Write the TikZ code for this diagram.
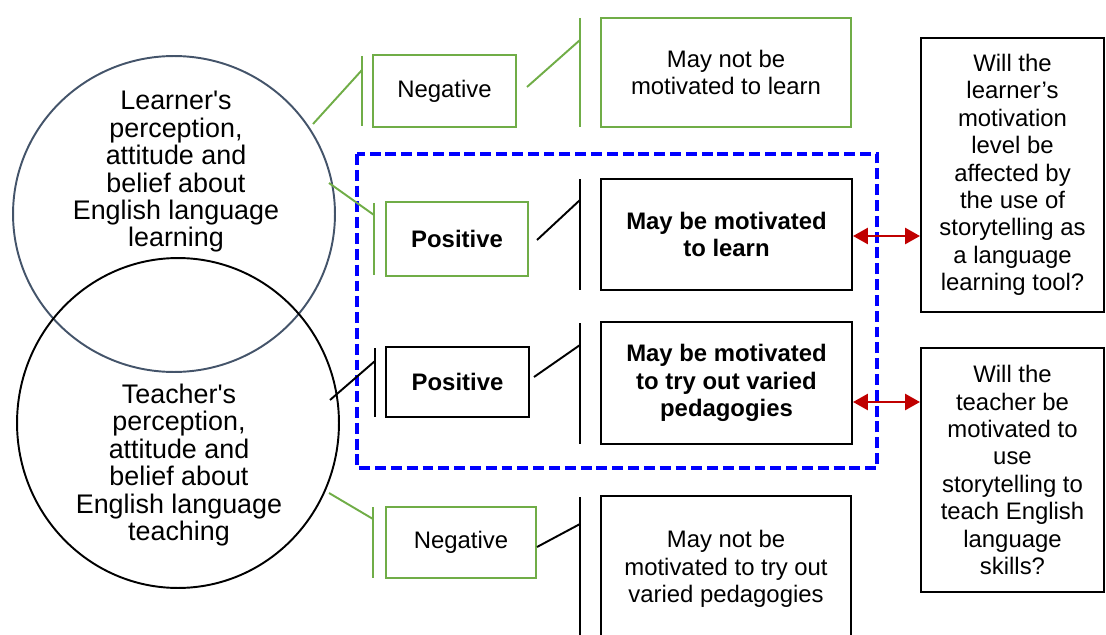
\documentclass[tikz,border=0pt]{standalone}
\usepackage{fontspec}
\setmainfont{Liberation Sans}
\usetikzlibrary{arrows.meta,shapes.geometric}
\definecolor{grn}{HTML}{70AD47}
\definecolor{slate}{HTML}{44546A}
\definecolor{dred}{HTML}{C00000}
\tikzset{
  txt/.style={align=center,font=\fontsize{13.6pt}{15.6pt}\selectfont,inner sep=0pt},
  ctxt/.style={align=center,font=\fontsize{15.3pt}{15.6pt}\selectfont,inner sep=0pt},
  boxg/.style={draw=grn,line width=1.1pt,txt,anchor=center},
  boxk/.style={draw=black,line width=1.1pt,txt,anchor=center},
  lng/.style={draw=grn,line width=1.1pt},
  lnk/.style={draw=black,line width=1.1pt},
  twoway/.style={draw=dred,line width=1.7pt,{Triangle[length=8.5pt,width=9pt]}-{Triangle[length=8.5pt,width=9pt]}},
  dashbox/.style={draw=blue,line width=1.9pt,dash pattern=on 6.2pt off 2.8pt}
}
\begin{document}
\begin{tikzpicture}[x=0.02cm,y=-0.02cm]
\useasboundingbox (0,0) rectangle (1106,635);
\clip (0,0) rectangle (1106,635);
% circles
\node[ellipse,draw=slate,line width=1.1pt,minimum width=6.44cm,minimum height=6.32cm,inner sep=0pt] (c1) at (174,214) {};
\node[ellipse,draw=black,line width=1.1pt,minimum width=6.44cm,minimum height=6.6cm,inner sep=0pt] (c2) at (178,423) {};
\node[ctxt] (t1) at (176,172) {Learner\textquotesingle s\\perception,\\attitude and\\belief about\\English language\\learning};
\node[ctxt] (t2) at (179,465) {Teacher\textquotesingle s\\perception,\\attitude and\\belief about\\English language\\teaching};
% dashed frame
\draw[dashbox] (357,154) rectangle (877,468);
% middle boxes
\node[boxg,minimum width=2.86cm,minimum height=1.44cm] (negT) at (444.5,91) {Negative};
\node[boxg,minimum width=2.84cm,minimum height=1.48cm] (posL) at (457,239) {\bfseries Positive};
\node[boxk,minimum width=2.86cm,minimum height=1.40cm] (posT) at (457.5,382) {\bfseries Positive};
\node[boxg,minimum width=3.00cm,minimum height=1.42cm] (negB) at (461,542.5) {Negative};
% outcome boxes
\node[boxg,minimum width=5.00cm,minimum height=2.18cm] (o1) at (726,72.5) {May not be\\motivated to learn};
\node[boxk,minimum width=5.02cm,minimum height=2.22cm] (o2) at (726.5,234.5) {\bfseries May be motivated\\\bfseries to learn};
\node[boxk,minimum width=5.02cm,minimum height=2.44cm] (o3) at (726.5,383) {\bfseries May be motivated\\\bfseries to try out varied\\\bfseries pedagogies};
\node[boxk,minimum width=5.00cm,minimum height=2.92cm] (o4) at (726,569) {May not be\\motivated to try out\\varied pedagogies};
% question boxes
\node[boxk,minimum width=3.66cm,minimum height=5.48cm] (q1) at (1012.5,175) {Will the\\learner’s\\motivation\\level be\\affected by\\the use of\\storytelling as\\a language\\learning tool?};
\node[boxk,minimum width=3.66cm,minimum height=4.88cm] (q2) at (1012.5,470) {Will the\\teacher be\\motivated to\\use\\storytelling to\\teach English\\language\\skills?};
% bracket lines
\draw[lng] (362,56) -- (362,126);
\draw[lng] (374,203) -- (374,275);
\draw[lnk] (375,348) -- (375,417);
\draw[lng] (373,507) -- (373,578);
\draw[lng] (580,18) -- (580,127);
\draw[lnk] (580,179) -- (580,290);
\draw[lnk] (580,323) -- (580,444);
\draw[lnk] (580,497) -- (580,640);
% connector endpoints
\coordinate (a1) at (313,124); \coordinate (b1) at (362,70);
\coordinate (a2) at (527,87);  \coordinate (b2) at (580,40);
\coordinate (a3) at (329,183); \coordinate (b3) at (374,215);
\coordinate (a4) at (537,240); \coordinate (b4) at (580,200);
\coordinate (a5) at (330,400); \coordinate (b5) at (375,361);
\coordinate (a6) at (534,377); \coordinate (b6) at (580,345);
\coordinate (a7) at (329,493); \coordinate (b7) at (373,519);
\coordinate (a8) at (537,547); \coordinate (b8) at (580,524);
\draw[lng] (a1) -- (b1);
\draw[lng] (a2) -- (b2);
\draw[lng] (a3) -- (b3);
\draw[lnk] (a4) -- (b4);
\draw[lnk] (a5) -- (b5);
\draw[lnk] (a6) -- (b6);
\draw[lng] (a7) -- (b7);
\draw[lnk] (a8) -- (b8);
% arrows
\coordinate (r1a) at (o2.east |- 0,236); \coordinate (r1b) at (q1.west |- 0,236);
\coordinate (r2a) at (o3.east |- 0,402); \coordinate (r2b) at (q2.west |- 0,402);
\draw[twoway] (r1a) -- (r1b);
\draw[twoway] (r2a) -- (r2b);
\end{tikzpicture}
\end{document}
